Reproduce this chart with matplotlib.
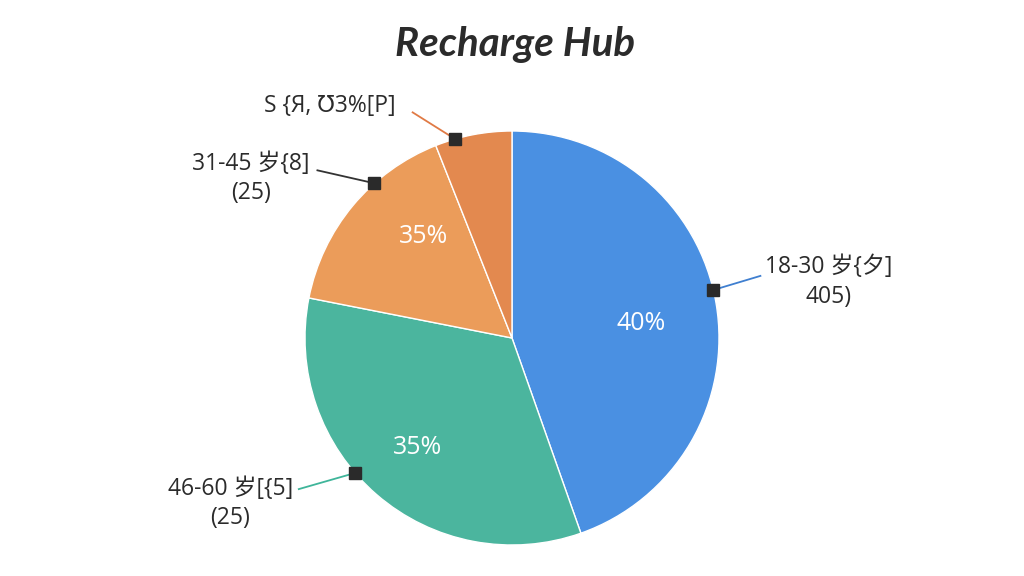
import numpy as np
import matplotlib
matplotlib.use("Agg")
import matplotlib.pyplot as plt

# ---- data ----
categories = ["18-30 岁{夕]\n405)", "46-60 岁[{5]\n(25)", "31-45 岁{8]\n(25)", "S {Я, Ʊ3%[P]"]
values = [44.6, 33.5, 15.9, 6.0]
pct_labels = ["40%", "35%", "35%", ""]
title = "Recharge Hub"

# ---- style ----
colors = ["#4a90e2", "#4bb59e", "#eb9c5a", "#e3894f"]
line_colors = ["#3f7fd0", "#3fb59a", "#333333", "#e07a45"]
dot_frac = [0.477, 0.57, 0.65, 0.26]          # where on each wedge arc the dot sits
pct_r = [0.63, 0.70, 0.65, 0.0]
pct_frac = [0.52, 0.5, 0.66, 0.5]
label_pos = [(1.53, 0.27), (-1.36, -0.80), (-1.26, 0.77), (-0.88, 1.12)]
line_end = [(1.20, 0.30), (-1.03, -0.73), (-0.94, 0.81), (-0.48, 1.09)]

LABEL_FONT = ['Open Sans', 'Noto Sans CJK SC', 'DejaVu Sans']
plt.rcParams['font.family'] = LABEL_FONT
fig = plt.figure(figsize=(10.24, 5.76), dpi=100)
fig.patch.set_facecolor("white")
R = 207.0
cx, cy = 512.0, 338.0
ax = fig.add_axes([0, 0, 1, 1])

wedges, _ = ax.pie(values, colors=colors, startangle=90, counterclock=False,
                   radius=1.0, center=(0, 0),
                   wedgeprops=dict(edgecolor="white", linewidth=1.0))
ax.set_xlim(-cx / R, (1024 - cx) / R)
ax.set_ylim(-(576 - cy) / R, cy / R)
ax.set_aspect('auto')
ax.axis('off')

for i, w in enumerate(wedges):
    t1, t2 = w.theta1, w.theta2
    if pct_labels[i]:
        m = np.deg2rad(t2 - pct_frac[i] * (t2 - t1))
        ax.text(pct_r[i] * np.cos(m), pct_r[i] * np.sin(m), pct_labels[i],
                ha='center', va='center', color='white', fontsize=18)
    a = np.deg2rad(t2 - dot_frac[i] * (t2 - t1))
    dx, dy = np.cos(a), np.sin(a)
    lx, ly = line_end[i]
    ax.plot([dx, lx], [dy, ly], color=line_colors[i], lw=1.3, zorder=3)
    ax.plot([dx], [dy], marker='s', ms=8, color='#2a2a2a', zorder=4)
    tx, ty = label_pos[i]
    ax.text(tx, ty, categories[i], ha='center', va='center', fontsize=16.5,
            color='#2b2b2b', linespacing=1.3, multialignment='center')

fig.text(0.503, 0.922, title, ha='center', va='center', fontsize=29,
         fontweight='bold', fontstyle='italic', color='#2b2b2b',
         family=['Lato', 'DejaVu Sans'])

fig.savefig("out.png", dpi=100, facecolor="white")
